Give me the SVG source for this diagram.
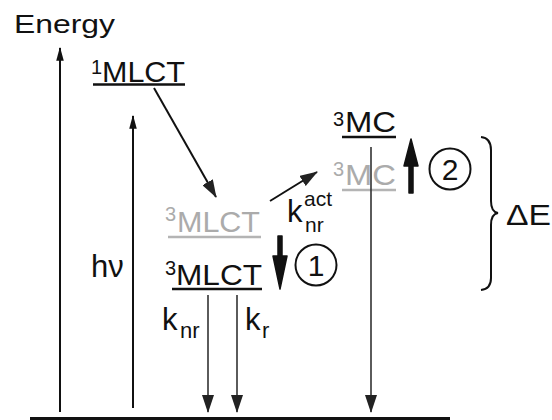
<svg xmlns="http://www.w3.org/2000/svg" width="552" height="420" viewBox="0 0 552 420">
<defs>
<style>
text{font-family:"Liberation Sans",Arial,sans-serif;fill:#111}
.big{font-size:30px}
.sup{font-size:20px}
.sub{font-size:22px}
.sub2{font-size:21px}
.gray{fill:#ababab}
.lvl{stroke:#111;stroke-width:2.5}
.lvlg{stroke:#b4b4b4;stroke-width:2.5}
.ln{stroke:#111;stroke-width:2;fill:none}
.ln2{stroke:#333;stroke-width:1.6;fill:none}
</style>
<marker id="ah" markerUnits="userSpaceOnUse" markerWidth="14" markerHeight="26" refX="22" refY="6.5" orient="auto" viewBox="0 0 24 13">
<path d="M0,0 L24,6.5 L0,13 Z" fill="#111"/>
</marker>
<marker id="ahs" markerUnits="userSpaceOnUse" markerWidth="18" markerHeight="12" refX="17" refY="6" orient="auto" viewBox="0 0 18 12">
<path d="M0,0 L18,6 L0,12 Z" fill="#222"/>
</marker>
</defs>
<rect width="552" height="420" fill="#fff"/>

<g id="energy-axis">
<text x="14" y="33" font-size="26" textLength="101" lengthAdjust="spacingAndGlyphs">Energy</text>
</g>

<g id="mlct1">
<text x="91" y="74" class="sup">1</text>
<text x="102" y="82" class="big" textLength="83" lengthAdjust="spacingAndGlyphs">MLCT</text>
<line x1="93" y1="84.5" x2="185" y2="84.5" class="lvl"/>
</g>

<g id="mlct3-gray">
<text x="165" y="221" class="sup gray">3</text>
<text x="177" y="232" class="big gray" textLength="83" lengthAdjust="spacingAndGlyphs">MLCT</text>
<line x1="168" y1="237" x2="261" y2="237" class="lvlg"/>
</g>

<g id="mlct3">
<text x="165" y="275" class="sup">3</text>
<text x="176" y="285" class="big" textLength="86" lengthAdjust="spacingAndGlyphs">MLCT</text>
<line x1="172" y1="289" x2="262" y2="289" class="lvl"/>
</g>

<g id="mc3">
<text x="333" y="126" class="sup">3</text>
<text x="345" y="132" class="big" textLength="51" lengthAdjust="spacingAndGlyphs">MC</text>
<line x1="342" y1="137" x2="396" y2="137" class="lvl"/>
</g>

<g id="mc3-gray">
<text x="333" y="176" class="sup gray">3</text>
<text x="345" y="185" class="big gray" textLength="51" lengthAdjust="spacingAndGlyphs">MC</text>
<line x1="342" y1="190" x2="396" y2="190" class="lvlg"/>
</g>

<g id="ground">
<line x1="30" y1="418.5" x2="450" y2="418.5" stroke="#111" stroke-width="3"/>
</g>

<g id="step1">
<circle cx="316" cy="265" r="20.5" fill="none" stroke="#111" stroke-width="2"/>
<text x="316" y="276" font-size="30" text-anchor="middle">1</text>
</g>

<g id="step2">
<circle cx="450" cy="169" r="20.5" fill="none" stroke="#111" stroke-width="2"/>
<text x="450" y="180" font-size="30" text-anchor="middle">2</text>
</g>

<g id="delta-e">
<path d="M481,137 Q491,138 491,150 L491,201 Q491,212 498,213 Q491,214 491,225 L491,278 Q491,289 481,290" fill="none" stroke="#111" stroke-width="2"/>
<text x="506" y="225" font-size="29" textLength="45" lengthAdjust="spacingAndGlyphs">ΔE</text>
</g>

<g id="labels">
<text x="91" y="277" font-size="31">hν</text>
<text x="287" y="222" font-size="31">k</text>
<text x="304" y="206" class="sub2">act</text>
<text x="305" y="232" class="sub2">nr</text>
<text x="162" y="330" font-size="31">k</text>
<text x="180" y="338" class="sub">nr</text>
<text x="245" y="330" font-size="31">k</text>
<text x="262" y="338" class="sub">r</text>
</g>

<g id="connectors">
<line x1="60" y1="412" x2="60" y2="48" class="ln" marker-end="url(#ah)"/>
<line x1="133" y1="408" x2="133" y2="116" class="ln" marker-end="url(#ah)"/>
<line x1="154" y1="88" x2="216" y2="197" class="ln" marker-end="url(#ahs)"/>
<line x1="270" y1="201" x2="317" y2="172" class="ln" marker-end="url(#ahs)"/>
<line x1="208" y1="295" x2="208" y2="412" class="ln2" marker-end="url(#ahs)"/>
<line x1="237" y1="295" x2="237" y2="412" class="ln2" marker-end="url(#ahs)"/>
<line x1="371" y1="147" x2="371" y2="412" class="ln2" marker-end="url(#ahs)"/>
<path d="M278,236 L278,256 L273,256 L280,289 L287,256 L282,256 L282,236 Z" fill="#111" stroke="#111" stroke-width="1.5" stroke-linejoin="round"/>
<path d="M409,193 L409,166 L404,166 L411,139 L418,166 L413,166 L413,193 Z" fill="#111" stroke="#111" stroke-width="1.5" stroke-linejoin="round"/>
</g>
</svg>
